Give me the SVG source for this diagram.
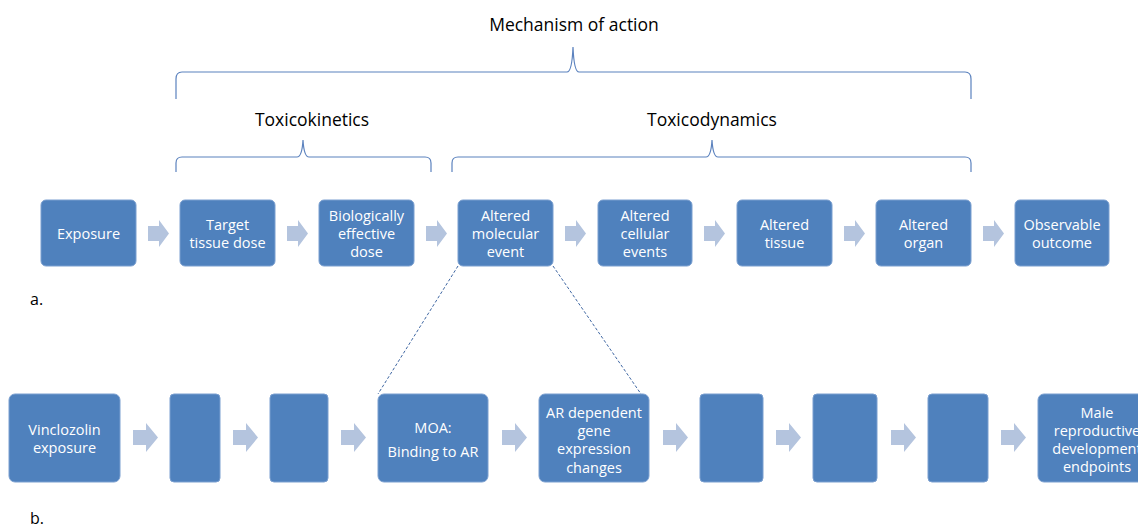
<svg xmlns="http://www.w3.org/2000/svg" width="1138" height="530" viewBox="0 0 1138 530">
<style>
.box{fill:#4f81bd;stroke:#7a9fd0;stroke-width:1}
.bt{fill:#ffffff;font-family:"Open Sans","Liberation Sans",sans-serif;font-size:14.5px;text-anchor:middle;dominant-baseline:central}
.hd{fill:#000000;font-family:"Open Sans","Liberation Sans",sans-serif;font-size:17.5px;text-anchor:middle;dominant-baseline:central}
.lbl{fill:#000000;font-family:"Open Sans","Liberation Sans",sans-serif;font-size:16px}
.brace{fill:none;stroke:#5b82be;stroke-width:1.2}
.arr{fill:#b4c4de}
.dash{stroke:#3f67a3;stroke-width:1;stroke-dasharray:3,2;fill:none}
</style>
<rect width="1138" height="530" fill="#ffffff"/>
<g id="headers">
<text class="hd" x="574" y="24">Mechanism of action</text>
<text class="hd" x="312" y="119">Toxicokinetics</text>
<text class="hd" x="712" y="119">Toxicodynamics</text>
<path class="brace" d="M176,99 V79 Q176,72 182,72 H567 Q572,72 573,47 Q574,72 579,72 H965 Q971,72 971,79 V99"/>
<path class="brace" d="M176,172 V163 Q176,157 182,157 H297 Q302,157 303,140 Q304,157 309,157 H425 Q431,157 431,163 V172"/>
<path class="brace" d="M452,172 V163 Q452,157 458,157 H706 Q711,157 712,140 Q713,157 718,157 H965 Q971,157 971,163 V172"/>
<text class="lbl" x="30" y="305">a.</text>
<text class="lbl" x="30" y="524">b.</text>
</g>
<g id="connectors">
<polygon class="arr" points="148,226 159,226 159,220 169,233.5 159,247 159,241 148,241"/>
<polygon class="arr" points="287,226 298,226 298,220 308,233.5 298,247 298,241 287,241"/>
<polygon class="arr" points="426,226 437,226 437,220 447,233.5 437,247 437,241 426,241"/>
<polygon class="arr" points="565,226 576,226 576,220 586,233.5 576,247 576,241 565,241"/>
<polygon class="arr" points="704,226 715,226 715,220 725,233.5 715,247 715,241 704,241"/>
<polygon class="arr" points="844,226 855,226 855,220 865,233.5 855,247 855,241 844,241"/>
<polygon class="arr" points="983,226 994,226 994,220 1004,233.5 994,247 994,241 983,241"/>
<polygon class="arr" points="133,430 146,430 146,423 158,437.5 146,452 146,445 133,445"/>
<polygon class="arr" points="233,430 246,430 246,423 258,437.5 246,452 246,445 233,445"/>
<polygon class="arr" points="341,430 354,430 354,423 366,437.5 354,452 354,445 341,445"/>
<polygon class="arr" points="502,430 515,430 515,423 527,437.5 515,452 515,445 502,445"/>
<polygon class="arr" points="663,430 676,430 676,423 688,437.5 676,452 676,445 663,445"/>
<polygon class="arr" points="776,430 789,430 789,423 801,437.5 789,452 789,445 776,445"/>
<polygon class="arr" points="891,430 904,430 904,423 916,437.5 904,452 904,445 891,445"/>
<polygon class="arr" points="1001,430 1014,430 1014,423 1026,437.5 1014,452 1014,445 1001,445"/>
<line class="dash" x1="458" y1="266" x2="378" y2="394"/>
<line class="dash" x1="553" y1="266" x2="641" y2="394"/>
</g>
<g id="exposure"><rect class="box" x="41" y="200" width="95" height="66" rx="5"/><text class="bt" x="88.5" y="233">Exposure</text></g>
<g id="target"><rect class="box" x="180" y="200" width="95" height="66" rx="5"/><text class="bt" x="227.5" y="224">Target</text><text class="bt" x="227.5" y="242">tissue dose</text></g>
<g id="bed"><rect class="box" x="319" y="200" width="95" height="66" rx="5"/><text class="bt" x="366.5" y="215">Biologically</text><text class="bt" x="366.5" y="233">effective</text><text class="bt" x="366.5" y="251">dose</text></g>
<g id="molecular"><rect class="box" x="458" y="200" width="95" height="66" rx="5"/><text class="bt" x="505.5" y="215">Altered</text><text class="bt" x="505.5" y="233">molecular</text><text class="bt" x="505.5" y="251">event</text></g>
<g id="cellular"><rect class="box" x="598" y="200" width="94" height="66" rx="5"/><text class="bt" x="645" y="215">Altered</text><text class="bt" x="645" y="233">cellular</text><text class="bt" x="645" y="251">events</text></g>
<g id="tissue"><rect class="box" x="737" y="200" width="95" height="66" rx="5"/><text class="bt" x="784.5" y="224">Altered</text><text class="bt" x="784.5" y="242">tissue</text></g>
<g id="organ"><rect class="box" x="876" y="200" width="95" height="66" rx="5"/><text class="bt" x="923.5" y="224">Altered</text><text class="bt" x="923.5" y="242">organ</text></g>
<g id="outcome"><rect class="box" x="1015" y="200" width="94" height="66" rx="5"/><text class="bt" x="1062" y="224">Observable</text><text class="bt" x="1062" y="242">outcome</text></g>
<g id="vinclozolin"><rect class="box" x="9" y="394" width="111" height="88" rx="6"/><text class="bt" x="64.5" y="429">Vinclozolin</text><text class="bt" x="64.5" y="447">exposure</text></g>
<g id="blank1"><rect class="box" x="170" y="394" width="50" height="88" rx="4"/></g>
<g id="blank2"><rect class="box" x="270" y="394" width="58" height="88" rx="4"/></g>
<g id="moa"><rect class="box" x="378" y="394" width="110" height="88" rx="6"/><text class="bt" x="433" y="427">MOA:</text><text class="bt" x="433" y="451">Binding to AR</text></g>
<g id="ar"><rect class="box" x="539" y="394" width="110" height="88" rx="6"/><text class="bt" x="594" y="412">AR dependent</text><text class="bt" x="594" y="430">gene</text><text class="bt" x="594" y="448">expression</text><text class="bt" x="594" y="467">changes</text></g>
<g id="blank3"><rect class="box" x="700" y="394" width="63" height="88" rx="4"/></g>
<g id="blank4"><rect class="box" x="813" y="394" width="64" height="88" rx="4"/></g>
<g id="blank5"><rect class="box" x="928" y="394" width="60" height="88" rx="4"/></g>
<g id="male"><rect class="box" x="1038" y="394" width="118" height="88" rx="6"/><text class="bt" x="1097" y="412">Male</text><text class="bt" x="1097" y="430">reproductive</text><text class="bt" x="1097" y="448">development</text><text class="bt" x="1097" y="466">endpoints</text></g>
</svg>
